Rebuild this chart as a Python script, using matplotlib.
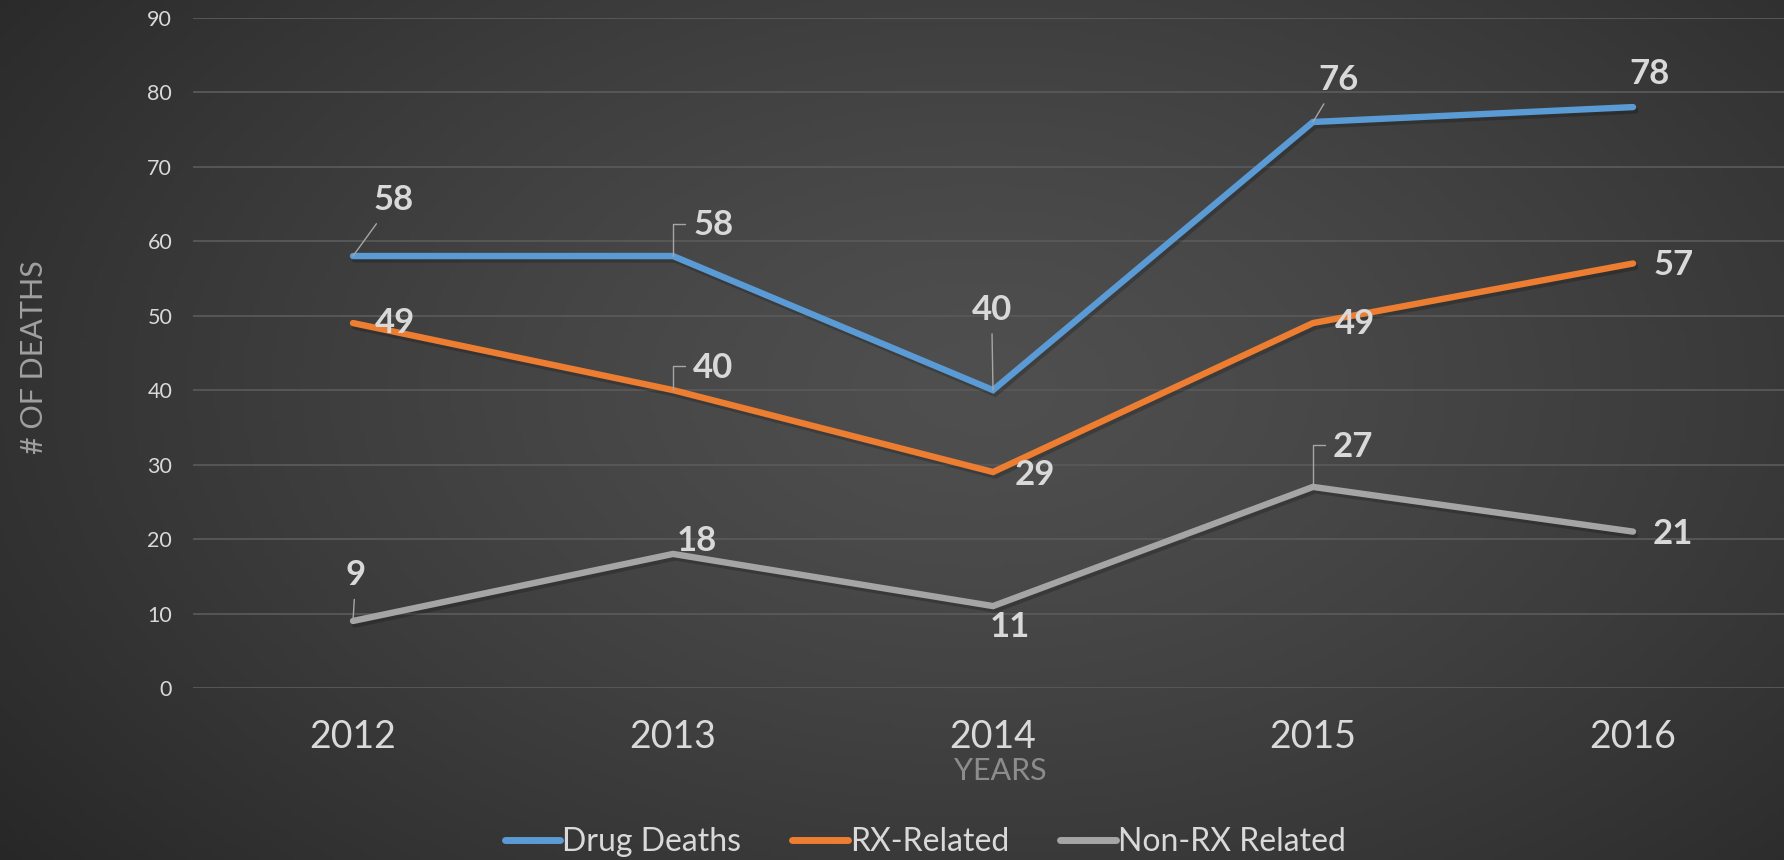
import numpy as np
import matplotlib.pyplot as plt
import matplotlib.patheffects as pe

plt.rcParams['font.family'] = ['Lato', 'DejaVu Sans']

# data
years = ['2012', '2013', '2014', '2015', '2016']
drug_deaths = [58, 58, 40, 76, 78]
rx_related = [49, 40, 29, 49, 57]
non_rx = [9, 18, 11, 27, 21]

# label offsets (points) and leader style for each point: None / 'line' / 'elbow'
drug_off = [(29, 40), (29, 22), (-1, 58), (18, 30), (12, 24)]
drug_lead = ['line', 'elbow', 'line', 'line', None]
rx_off = [(30, 0), (29, 16), (30, -2), (30, -1), (29, -1)]
rx_lead = [None, 'elbow', None, None, None]
non_off = [(2, 33), (17, 9), (12, -15), (29, 29), (29, -2)]
non_lead = ['line', None, None, 'elbow', None]

fig = plt.figure(figsize=(17.84, 8.6), dpi=100)

# radial background
bg = fig.add_axes([0, 0, 1, 1], zorder=-5)
gx, gy = np.meshgrid(np.linspace(0, 1, 400), np.linspace(0, 1, 200))
r = np.sqrt(((gx - 0.55) / 0.75) ** 2 + ((gy - 0.55) / 0.95) ** 2)
shade = 0.31 - 0.17 * np.clip(r, 0, 1) ** 1.3
bg.imshow(np.dstack([shade, shade, shade]), extent=[0, 1, 0, 1], aspect='auto', origin='lower')
bg.axis('off')

ax = fig.add_axes([193 / 1784, 0.2, 1600 / 1784, 0.7794])
ax.set_facecolor('none')
x = np.arange(len(years))

series = [
    (drug_deaths, '#5B9BD5', 'Drug Deaths', drug_off, drug_lead),
    (rx_related, '#ED7D31', 'RX-Related', rx_off, rx_lead),
    (non_rx, '#A5A5A5', 'Non-RX Related', non_off, non_lead),
]
shadow = [pe.SimpleLineShadow(offset=(1.5, -2.5), shadow_color='black', alpha=0.2), pe.Normal()]
handles = []
for vals, col, name, offs, leads in series:
    ln, = ax.plot(x, vals, color=col, lw=4.6, solid_capstyle='round', solid_joinstyle='miter',
                  label=name, path_effects=shadow, zorder=3)
    handles.append(ln)
    for i, v in enumerate(vals):
        kw = {}
        if leads[i] == 'line':
            kw['arrowprops'] = dict(arrowstyle='-', color='#a6a6a6', lw=1, shrinkA=4, shrinkB=0)
        elif leads[i] == 'elbow':
            kw['arrowprops'] = dict(arrowstyle='-', color='#a6a6a6', lw=1, shrinkA=4, shrinkB=0,
                                    relpos=(0, 0.55),
                                    connectionstyle='angle,angleA=0,angleB=90,rad=0')
        ax.annotate(str(v), xy=(i, v), xytext=offs[i], textcoords='offset points',
                    ha='center', va='center', fontsize=25, fontweight='bold',
                    color='#d9d9d9', zorder=5, **kw)

ax.set_xlim(-0.5, 4.5)
ax.set_ylim(0, 90)
ax.set_yticks(range(0, 91, 10))
ax.set_xticks(x)
ax.set_xticklabels(years, fontsize=27, color='#d9d9d9')
ax.tick_params(axis='y', labelsize=15.5, labelcolor='#d9d9d9', length=0, pad=15)
ax.tick_params(axis='x', length=0, pad=22)
ax.grid(axis='y', color='#595959', lw=1.3)
ax.set_axisbelow(True)
for s in ax.spines.values():
    s.set_visible(False)

fig.text(34 / 1784, 1 - 357 / 860, '# OF DEATHS', rotation=90, ha='center', va='center',
         fontsize=22, color='#a0a0a0')
fig.text(1000 / 1784, 1 - 771 / 860, 'YEARS', ha='center', va='center', fontsize=22, color='#8c8c8c')

leg = fig.legend(handles=handles, loc='center', bbox_to_anchor=(925 / 1784, 1 - 842 / 860), ncol=3,
                 frameon=False, fontsize=23, handlelength=1.75, handletextpad=0.05,
                 columnspacing=1.6, labelcolor='#d9d9d9')
for h in leg.legend_handles:
    h.set_linewidth(5)
    h.set_path_effects([])

fig.savefig('out.png', dpi=100)
